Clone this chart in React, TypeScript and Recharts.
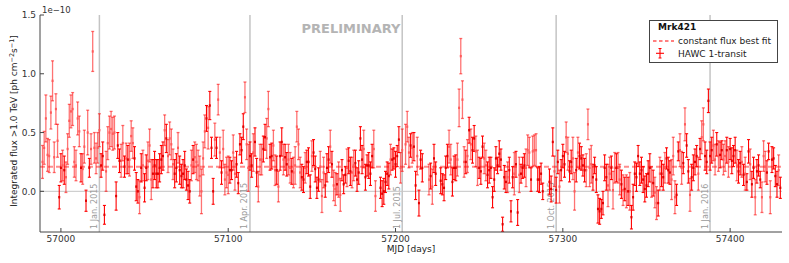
import React from 'react';
import { ComposedChart, Scatter, XAxis, YAxis, ErrorBar, ReferenceLine } from 'recharts';

// Daily HAWC 1-transit fluxes (units of 1e-10 ph cm^-2 s^-1), one value per day from each segment start
const segmentStartMJD = [56989, 57083, 57206, 57328];

const fluxSeg1 = [
  0.25, 0.37, 0.62, 0.31, 0.30, 0.67, 0.94, 0.29, 0.70, 0.43,
  -0.05, 0.20, 0.22, 0.18, 0.12, 0.36, 0.60, 0.68, 0.70, 0.25,
  0.22, 0.62, 0.51, 0.20, 0.19, 0.38, -0.08, 0.50, 0.20, 0.36,
  1.19, 0.37, 0.28, 0.37, 0.52, 0.22, 0.30, -0.20, 0.17, 0.41,
  0.50, 0.53, 0.49, 0.50, -0.04, 0.39, 0.26, 0.26, 0.41, 0.21,
  0.28, 0.27, 0.27, 0.47, 0.41, 0.28, 0.04, 0.00, -0.05, 0.20,
  0.22, 0.03, 0.20, 0.26, 0.39, 0.10, 0.15, 0.22, 0.15, 0.15,
  0.20, 0.27, 0.30, 0.52, 0.45, 0.30, 0.45, 0.40, 0.23, 0.15,
  0.20, 0.37, 0.18, 0.13, 0.15, 0.22, 0.10, 0.05, 0.00, 0.22,
  0.27, 0.29, 0.25, 0.22,
];
const errSeg1 = [
  0.14, 0.14, 0.20, 0.14, 0.14, 0.14, 0.17, 0.13, 0.13, 0.14,
  0.10, 0.12, 0.13, 0.12, 0.13, 0.13, 0.14, 0.14, 0.14, 0.13,
  0.13, 0.14, 0.13, 0.12, 0.13, 0.14, 0.09, 0.19, 0.08, 0.13,
  0.17, 0.13, 0.13, 0.13, 0.14, 0.10, 0.12, 0.08, 0.17, 0.14,
  0.14, 0.15, 0.14, 0.14, 0.12, 0.11, 0.10, 0.14, 0.15, 0.09,
  0.13, 0.12, 0.14, 0.13, 0.13, 0.10, 0.12, 0.10, 0.14, 0.12,
  0.13, 0.12, 0.11, 0.16, 0.14, 0.17, 0.12, 0.12, 0.12, 0.12,
  0.12, 0.12, 0.12, 0.13, 0.12, 0.14, 0.14, 0.13, 0.13, 0.12,
  0.12, 0.13, 0.12, 0.10, 0.12, 0.12, 0.09, 0.12, 0.10, 0.13,
  0.12, 0.13, 0.15, 0.13,
];

const fluxSeg2 = [
  0.13, 0.00, 0.28, 0.51, 0.62, 0.54, 0.73, 0.37, 0.00, 0.44,
  0.37, 0.78, 0.33, 0.16, 0.36, 0.10, 0.16, 0.14, 0.18, 0.18,
  0.33, 0.15, 0.23, 0.07, 0.40, 0.35, 0.55, 0.80, 0.40, 0.20,
  0.30, 0.22, 0.33, 0.42, 0.16, 0.04, 0.27, 0.27, 0.36, 0.46,
  0.45, 0.70, 0.29, 0.30, 0.39, 0.18, 0.18, 0.04, 0.30, 0.42,
  0.27, 0.29, 0.23, 0.27, 0.20, 0.17, 0.16, 0.22, 0.55, 0.40,
  0.16, 0.12, 0.10, 0.20, 0.25, 0.25, 0.04, 0.30, 0.33, 0.19,
  0.03, 0.10, 0.21, -0.04, 0.16, 0.05, 0.20, 0.27, 0.38, 0.23,
  0.05, 0.02, 0.06, 0.10, -0.03, 0.18, 0.06, 0.14, 0.20, 0.26,
  0.17, 0.16, 0.22, 0.24, 0.10, 0.16, 0.45, 0.27, 0.36, 0.12,
  0.22, 0.22, 0.15, 0.30, 0.36, -0.04, null, null, 0.03, -0.02,
  0.00, 0.08, 0.15, 0.13, 0.27, 0.27, 0.28, 0.23, 0.30, 0.44,
  0.20, 0.35,
];
const errSeg2 = [
  0.17, 0.19, 0.14, 0.14, 0.11, 0.18, 0.12, 0.09, 0.11, 0.14,
  0.09, 0.13, 0.13, 0.10, 0.16, 0.13, 0.13, 0.16, 0.11, 0.08,
  0.15, 0.14, 0.11, 0.09, 0.09, 0.11, 0.11, 0.13, 0.13, 0.20,
  0.12, 0.10, 0.16, 0.12, 0.12, 0.13, 0.13, 0.13, 0.11, 0.11,
  0.17, 0.15, 0.11, 0.11, 0.13, 0.13, 0.12, 0.13, 0.12, 0.12,
  0.13, 0.11, 0.10, 0.13, 0.13, 0.11, 0.13, 0.16, 0.13, 0.13,
  0.13, 0.11, 0.11, 0.13, 0.10, 0.12, 0.10, 0.13, 0.11, 0.11,
  0.09, 0.10, 0.13, 0.14, 0.13, 0.10, 0.12, 0.11, 0.14, 0.11,
  0.13, 0.14, 0.09, 0.15, 0.14, 0.09, 0.08, 0.07, 0.16, 0.11,
  0.12, 0.13, 0.13, 0.11, 0.10, 0.10, 0.10, 0.12, 0.16, 0.11,
  0.09, 0.11, 0.10, 0.10, 0.16, 0.13, null, null, 0.09, 0.11,
  0.11, 0.09, 0.10, 0.11, 0.13, 0.09, 0.09, 0.11, 0.09, 0.11,
  0.13, 0.18,
];

const fluxSeg3 = [
  0.40, 0.55, 0.33, 0.39, 0.37, 0.38, 0.05, 0.30, -0.10, 0.27,
  0.20, null, null, null, 0.10, 0.13, 0.04, 0.28, 0.15, null,
  null, 0.09, 0.06, 0.03, 0.20, 0.30, 0.38, 0.27, 0.08, 0.20,
  0.20, 0.27, 0.71, 1.15, 0.78, 0.25, 0.25, 0.30, 0.52, 0.40,
  0.35, 0.45, 0.34, 0.20, 0.20, 0.17, 0.38, 0.28, 0.22, 0.14,
  0.18, 0.20, -0.05, 0.10, 0.28, 0.22, 0.32, 0.27, -0.28, 0.12,
  0.08, 0.12, 0.18, -0.17, 0.12, 0.15, 0.23, -0.18, 0.14, 0.15,
  0.20, 0.22, 0.20, 0.35, 0.33, 0.10, 0.34, 0.35, 0.35, 0.10,
  0.10, 0.15, 0.00, null, null, null, 0.08, 0.02, 0.42, 0.17,
  0.01, 0.25, 0.04, 0.18, 0.30, 0.23, 0.46, 0.32, 0.17, 0.25,
  0.28, 0.00, 0.18, 0.33, 0.30, 0.28, 0.22, 0.18, 0.18, 0.57,
  0.20, 0.23, 0.12, 0.22, 0.10, -0.15, -0.17, -0.15, -0.10, 0.20,
  0.12, 0.05,
];
const errSeg3 = [
  0.17, 0.13, 0.13, 0.10, 0.13, 0.12, 0.12, 0.16, 0.11, 0.08,
  0.12, null, null, null, 0.13, 0.11, 0.15, 0.12, 0.10, null,
  null, 0.11, 0.09, 0.11, 0.10, 0.10, 0.14, 0.13, 0.12, 0.10,
  0.11, 0.14, 0.16, 0.15, 0.16, 0.13, 0.10, 0.14, 0.11, 0.13,
  0.11, 0.11, 0.13, 0.15, 0.09, 0.11, 0.09, 0.13, 0.13, 0.11,
  0.11, 0.09, 0.09, 0.10, 0.10, 0.07, 0.11, 0.09, 0.06, 0.10,
  0.09, 0.13, 0.11, 0.09, 0.09, 0.18, 0.11, 0.11, 0.15, 0.08,
  0.09, 0.10, 0.16, 0.13, 0.13, 0.10, 0.13, 0.13, 0.14, 0.10,
  0.11, 0.09, 0.07, null, null, null, 0.11, 0.11, 0.12, 0.13,
  0.11, 0.10, 0.14, 0.09, 0.10, 0.11, 0.13, 0.14, 0.09, 0.10,
  0.18, 0.16, 0.10, 0.13, 0.11, 0.10, 0.09, 0.10, 0.14, 0.13,
  0.16, 0.16, 0.11, 0.07, 0.11, 0.12, 0.11, 0.08, 0.10, 0.11,
  0.11, 0.18,
];

const fluxSeg4 = [
  0.15, 0.20, 0.01, 0.20, 0.20, 0.20, 0.10, 0.06, 0.01, 0.02,
  0.00, 0.00, 0.00, -0.22, -0.05, 0.15, 0.12, 0.30, 0.15, 0.18,
  0.10, 0.02, 0.05, 0.15, 0.20, 0.08, 0.07, -0.01, -0.10, -0.10,
  0.15, 0.15, 0.12, 0.20, 0.28, 0.18, 0.16, 0.10, 0.30, -0.05,
  -0.03, 0.34, 0.35, 0.20, 0.24, 0.57, 0.39, 0.17, -0.03, 0.12,
  0.20, 0.25, 0.30, 0.15, 0.36, 0.46, 0.57, 0.30, 0.25, 0.77,
  0.30, 0.35, 0.39, 0.27, 0.40, 0.30, 0.31, 0.35, 0.27, 0.30,
  0.35, 0.25, 0.36, 0.26, 0.30, 0.35, 0.22, 0.17, 0.24, 0.25,
  0.14, 0.15, 0.08, 0.34, 0.23, 0.06, 0.20, -0.05, 0.17, 0.22,
  0.10, -0.05, 0.30, 0.21, 0.16, 0.34, -0.05, 0.27, 0.28, 0.13,
  0.06, 0.18, 0.03,
];
const errSeg4 = [
  0.14, 0.10, 0.16, 0.13, 0.12, 0.13, 0.13, 0.12, 0.13, 0.10,
  0.14, 0.12, 0.16, 0.10, 0.11, 0.10, 0.12, 0.09, 0.10, 0.11,
  0.11, 0.11, 0.10, 0.11, 0.12, 0.13, 0.11, 0.13, 0.14, 0.11,
  0.14, 0.11, 0.11, 0.13, 0.09, 0.11, 0.10, 0.17, 0.16, 0.14,
  0.09, 0.08, 0.14, 0.14, 0.09, 0.14, 0.10, 0.10, 0.14, 0.11,
  0.11, 0.11, 0.09, 0.14, 0.09, 0.14, 0.14, 0.12, 0.10, 0.10,
  0.12, 0.11, 0.13, 0.13, 0.10, 0.13, 0.11, 0.08, 0.13, 0.13,
  0.11, 0.13, 0.09, 0.11, 0.09, 0.11, 0.13, 0.10, 0.10, 0.13,
  0.09, 0.14, 0.07, 0.10, 0.13, 0.11, 0.09, 0.15, 0.10, 0.09,
  0.07, 0.13, 0.13, 0.13, 0.10, 0.07, 0.14, 0.11, 0.09, 0.09,
  0.11, 0.13, 0.09,
];

const xTicks = [57000, 57100, 57200, 57300, 57400];
const yTicks = [0, 0.5, 1.0, 1.5];
const dateMarkerMJD = [57023, 57113, 57204, 57296, 57388];
const dateMarkerLabels = ['1 Jan. 2015', '1 Apr. 2015', '1 Jul. 2015', '1 Oct. 2015', '1 Jan. 2016'];
const constantFluxFit = 0.21;

const X_DOMAIN: [number, number] = [56987.5, 57431];
const Y_DOMAIN: [number, number] = [-0.346, 1.5];
const FONT = 'DejaVu Sans, sans-serif';

type Pt = { mjd: number; flux: number; err: number };
const segments: [(number | null)[], (number | null)[]][] = [
  [fluxSeg1, errSeg1],
  [fluxSeg2, errSeg2],
  [fluxSeg3, errSeg3],
  [fluxSeg4, errSeg4],
];
const points: Pt[] = [];
segments.forEach(([f, e], s) => {
  f.forEach((v, i) => {
    if (v !== null && e[i] !== null) points.push({ mjd: segmentStartMJD[s] + i, flux: v, err: e[i] as number });
  });
});
const solidPoints = points.filter((p) => p.err < 0.125);
const faintPoints = points.filter((p) => p.err >= 0.125);

const DateLabel = (props: any) => {
  const vb = props.viewBox || {};
  const x = vb.x - 2.5;
  const y = vb.y + vb.height - 3;
  return (
    <text x={x} y={y} transform={`rotate(-90 ${x} ${y})`} fontSize={8} fill="#9a9a9a" fontFamily={FONT}>
      {props.text}
    </text>
  );
};

const Marker = (color: string) => (props: any) => {
  const { cx, cy } = props;
  if (cx == null || cy == null) return <g />;
  return <rect x={cx - 1} y={cy - 1.2} width={2} height={2.4} fill={color} />;
};

export default function App() {
  return (
    <div style={{ position: 'absolute', left: 0, top: 0, width: 789, height: 263, background: '#fff', fontFamily: FONT }}>
      <ComposedChart width={789} height={263} margin={{ top: 15, right: 7, bottom: 0, left: 0 }}>
        <XAxis
          dataKey="mjd"
          type="number"
          domain={X_DOMAIN}
          ticks={xTicks}
          allowDataOverflow
          height={31}
          tickSize={-4}
          tickMargin={7.5}
          tick={{ fontSize: 9, fill: '#333', fontFamily: FONT }}
          axisLine={{ stroke: '#444' }}
          tickLine={{ stroke: '#444' }}
        />
        <XAxis
          xAxisId="top"
          orientation="top"
          dataKey="mjd"
          type="number"
          domain={X_DOMAIN}
          ticks={xTicks}
          allowDataOverflow
          height={0}
          tickSize={-4}
          tick={false}
          axisLine={{ stroke: '#444' }}
          tickLine={{ stroke: '#444' }}
        />
        <YAxis
          dataKey="flux"
          type="number"
          domain={Y_DOMAIN}
          ticks={yTicks}
          allowDataOverflow
          width={40}
          tickSize={-4}
          tickMargin={8}
          tickFormatter={(v: number) => v.toFixed(1)}
          tick={{ fontSize: 9, fill: '#333', fontFamily: FONT }}
          axisLine={{ stroke: '#444' }}
          tickLine={{ stroke: '#444' }}
        />
        <YAxis
          yAxisId="right"
          orientation="right"
          dataKey="flux"
          type="number"
          domain={Y_DOMAIN}
          ticks={yTicks}
          allowDataOverflow
          width={0}
          tickSize={-4}
          tick={false}
          axisLine={{ stroke: '#444' }}
          tickLine={{ stroke: '#444' }}
        />
        <ReferenceLine y={0} stroke="#c4c4c4" strokeWidth={1} />
        {dateMarkerMJD.map((m, i) => (
          <ReferenceLine
            key={m}
            x={m}
            stroke="#c4c4c4"
            strokeWidth={1.5}
            label={<DateLabel text={dateMarkerLabels[i]} />}
          />
        ))}
        <Scatter data={faintPoints} dataKey="flux" isAnimationActive={false} shape={Marker('#ff5a5a')}>
          <ErrorBar dataKey="err" direction="y" width={1.5} stroke="#ff0000" strokeOpacity={0.55} strokeWidth={1.3} />
        </Scatter>
        <Scatter data={solidPoints} dataKey="flux" isAnimationActive={false} shape={Marker('#e00000')}>
          <ErrorBar dataKey="err" direction="y" width={1.5} stroke="#ff0000" strokeWidth={1.1} />
        </Scatter>
        <ReferenceLine y={constantFluxFit} stroke="#ff0000" strokeOpacity={0.45} strokeWidth={2} strokeDasharray="5 3" />
      </ComposedChart>
      <svg
        width={789}
        height={263}
        style={{ position: 'absolute', left: 0, top: 0, pointerEvents: 'none' }}
        fontFamily={FONT}
      >
        <text x={42} y={13} fontSize={8.5} fill="#333">1e−10</text>
        <text x={351} y={33} fontSize={13} fontWeight="bold" fill="#b4b4b4" textAnchor="middle">PRELIMINARY</text>
        <text transform="translate(16.5,121) rotate(-90)" fontSize={9} fill="#222" textAnchor="middle">
          Integrated flux &gt;1.0 TeV [ph cm
          <tspan dy={-3} fontSize={6.5}>−2</tspan>
          <tspan dy={3}>s</tspan>
          <tspan dy={-3} fontSize={6.5}>−1</tspan>
          <tspan dy={3}>]</tspan>
        </text>
        <text x={411} y={252} fontSize={9} fill="#222" textAnchor="middle">MJD [days]</text>
        <rect x={649.5} y={20.5} width={128} height={42} fill="#fff" stroke="#444" strokeWidth={1} />
        <text x={658} y={30} fontSize={9} fontWeight="bold" fill="#111">Mrk421</text>
        <line x1={653} y1={41} x2={674} y2={41} stroke="#ff0000" strokeWidth={1.2} strokeDasharray="3.5 2.5" />
        <text x={678} y={44} fontSize={9} fill="#222">constant flux best fit</text>
        <line x1={660} y1={48.5} x2={660} y2={58} stroke="#ff0000" strokeWidth={1.1} />
        <line x1={656} y1={53.3} x2={664} y2={53.3} stroke="#ff0000" strokeWidth={1.1} />
        <line x1={658.5} y1={48.5} x2={661.5} y2={48.5} stroke="#ff0000" strokeWidth={1} />
        <line x1={658.5} y1={58} x2={661.5} y2={58} stroke="#ff0000" strokeWidth={1} />
        <text x={678} y={56.5} fontSize={9} fill="#222">HAWC 1-transit</text>
      </svg>
    </div>
  );
}
